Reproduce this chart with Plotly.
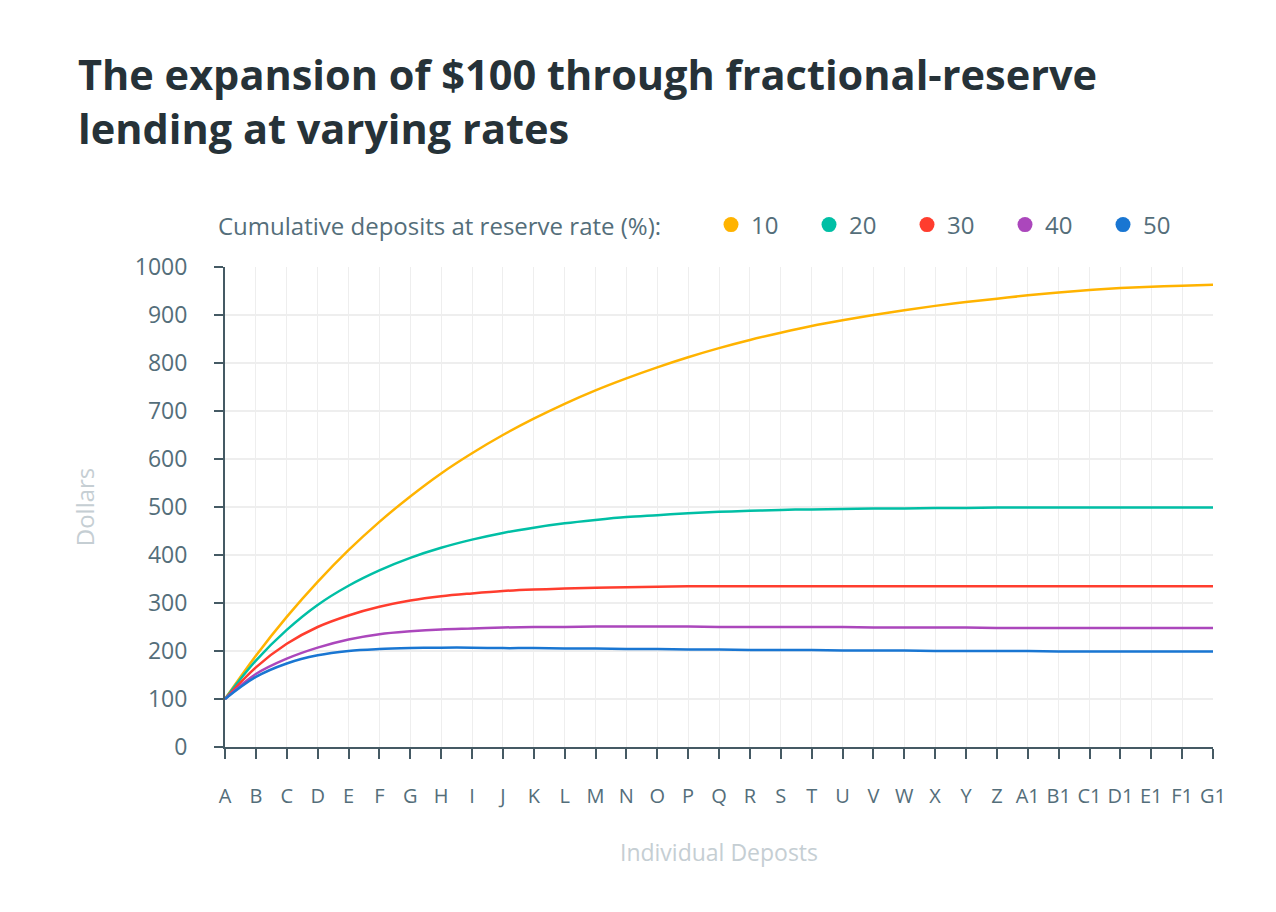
import plotly.graph_objects as go

categories = ["A", "B", "C", "D", "E", "F", "G", "H", "I", "J", "K", "L", "M", "N", "O", "P", "Q", "R",
              "S", "T", "U", "V", "W", "X", "Y", "Z", "A1", "B1", "C1", "D1", "E1", "F1", "G1"]

rate10 = [100, 190, 271, 344, 410, 469, 522, 570, 612, 650, 684, 715, 743, 768, 791, 812, 831, 848,
          863, 877, 889, 900, 910, 919, 927, 934, 941, 947, 952, 956, 959, 961, 963]
rate20 = [100, 180, 244, 296, 336, 368, 394, 415, 432, 446, 457, 466, 473, 479, 483, 487, 490, 492,
          494, 495, 496, 497, 497, 498, 498, 499, 499, 499, 499, 499, 499, 499, 499]
rate30 = [100, 166, 215, 250, 274, 292, 305, 314, 320, 325, 328, 330, 332, 333, 334, 335, 335, 335,
          335, 335, 335, 335, 335, 335, 335, 335, 335, 335, 335, 335, 335, 335, 335]
rate40 = [100, 152, 184, 207, 224, 235, 241, 245, 247, 249, 250, 250, 251, 251, 251, 251, 250, 250,
          250, 250, 250, 249, 249, 249, 249, 248, 248, 248, 248, 248, 248, 248, 248]
rate50 = [100, 146, 174, 191, 200, 204, 206, 207, 207, 206, 206, 205, 205, 204, 204, 203, 203, 202,
          202, 202, 201, 201, 201, 200, 200, 200, 200, 199, 199, 199, 199, 199, 199]

series_names = ["10", "20", "30", "40", "50"]
series_values = [rate10, rate20, rate30, rate40, rate50]
colors = ["#FFB300", "#00BFA5", "#FF3D2E", "#AB47BC", "#1976D2"]

y_ticks = [0, 100, 200, 300, 400, 500, 600, 700, 800, 900, 1000]

# the page adds an 8px body margin; compensate so the plot lands where the reference has it
OFF = 8
PL, PT, PR, PB = 225, 267, 1213, 747  # target plot-area edges in page pixels

fig = go.Figure()
for name, vals, col in zip(series_names, series_values, colors):
    fig.add_trace(go.Scatter(x=categories, y=vals, mode="lines", name=name,
                             line=dict(color=col, width=2.5, shape="spline", smoothing=1.0),
                             showlegend=False, hoverinfo="x+y+name"))
for name, col in zip(series_names, colors):
    fig.add_trace(go.Scatter(x=[None], y=[None], mode="markers", name=name,
                             marker=dict(color=col, size=15, symbol="circle"), showlegend=True))

pw, ph = PR - PL, PB - PT
fig.update_layout(
    width=1276, height=912,
    paper_bgcolor="white", plot_bgcolor="white",
    margin=dict(l=PL - OFF, r=1276 - (PR - OFF), t=PT - OFF, b=912 - (PB - OFF), autoexpand=False),
    font=dict(family="Open Sans", color="#546E7A"),
    title=dict(text="<b>The expansion of $100 through fractional-reserve<br>lending at varying rates</b>",
               x=(78 - OFF) / 1276, xref="container", xanchor="left",
               y=1 - (90 - OFF) / 912, yref="container", yanchor="top",
               font=dict(family="Open Sans", size=41.5, color="#263238")),
    legend=dict(orientation="h", x=(711 - PL) / pw, xanchor="left",
                y=(PB - 225) / ph, yanchor="middle",
                font=dict(size=24, color="#546E7A"),
                entrywidth=53, entrywidthmode="pixels",
                itemclick=False, itemdoubleclick=False),
    annotations=[dict(text="Cumulative deposits at reserve rate (%):", xref="paper", yref="paper",
                      x=(216 - PL) / pw, xanchor="left", y=(PB - 225) / ph, yanchor="middle",
                      showarrow=False, font=dict(size=24, color="#546E7A"))],
    showlegend=True,
)

fig.update_xaxes(
    type="category", range=[0, len(categories) - 1], automargin=False,
    showgrid=True, gridcolor="#EEEEEE", gridwidth=1,
    showline=True, linecolor="#455A64", linewidth=2,
    ticks="outside", ticklen=10, tickcolor="#455A64", tickwidth=1.5,
    ticklabelstandoff=20,
    tickfont=dict(size=20, color="#546E7A"),
    title=dict(text="Individual Deposts", font=dict(size=23, color="#C5CED3"), standoff=37),
    zeroline=False,
)
fig.update_yaxes(
    range=[0, 1000], tickvals=y_ticks, automargin=False,
    showgrid=True, gridcolor="#EEEEEE", gridwidth=1.5,
    showline=True, linecolor="#455A64", linewidth=2,
    ticks="outside", ticklen=9, tickcolor="#455A64", tickwidth=1.5,
    ticklabelstandoff=22,
    tickfont=dict(size=23, color="#546E7A"),
    title=dict(text="Dollars", font=dict(size=24, color="#C5CED3"), standoff=33),
    zeroline=False,
)

fig.write_html("out.html")
